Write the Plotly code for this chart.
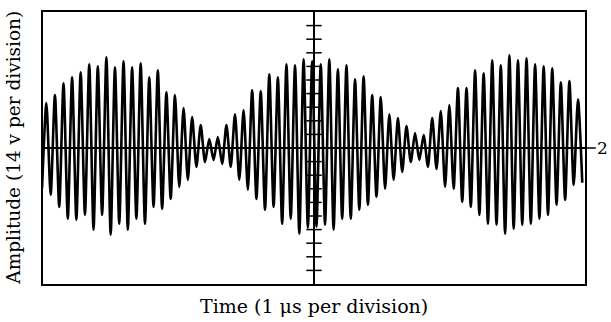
import plotly.graph_objects as go

# Sampling of the trace: one sample per half-cycle extreme (time in microseconds)
t_start = -0.017
half_period = 0.0791

# Positive peaks (volts), read left to right
peaks = [23.1, 27.2, 33.3, 36.4, 39.0, 43.1, 42.0, 46.7, 41.5, 44.6,
         41.5, 43.6, 36.4, 40.0, 28.7, 27.2, 20.5, 15.9, 11.8, 4.6,
         5.6, 11.8, 17.4, 19.5, 29.7, 29.2, 37.9, 36.4, 43.1, 42.6,
         45.6, 44.6, 43.1, 45.6, 40.5, 42.6, 35.4, 36.9, 27.2, 26.2,
         17.4, 15.4, 11.3, 7.7, 6.7, 15.4, 19.0, 22.1, 30.8, 30.8,
         40.0, 38.5, 45.1, 42.6, 47.7, 45.1, 46.2, 43.1, 42.0, 41.0,
         33.8, 34.4, 25.1]

# Negative troughs (volts, magnitude), read left to right
troughs = [20.5,
           24.1, 30.3, 36.4, 36.9, 34.4, 42.0, 34.4, 44.6, 39.0, 42.0, 36.4, 39.0, 30.3, 31.3, 26.2,
           20.0, 16.4, 9.7, 7.2, 6.2, 8.2, 9.7, 16.4, 21.5, 26.2, 31.8, 30.3, 39.0, 36.4, 44.1, 41.0,
           40.5, 39.5, 42.0, 36.4, 36.4, 31.8, 29.2, 25.1, 21.0, 16.4, 12.3, 7.2, 6.2, 9.7, 10.8, 20.0,
           21.0, 27.7, 30.3, 34.4, 39.0, 39.5, 44.1, 41.5, 39.5, 39.0, 36.4, 34.4, 29.2, 26.7, 19.0, 17.9]

# Graticule tick marks on the centre line (volts)
center_ticks = [-63, -56, -49, -42, -35, -28, -21, -14, -7, 7, 14, 21, 28, 35, 42, 49, 56, 63]

x_range = [0, 10]
y_range = [-70, 70]

ys = []
for i in range(len(troughs)):
    ys.append(-troughs[i])
    if i < len(peaks):
        ys.append(peaks[i])
ts = [t_start + k * half_period for k in range(len(ys))]

font_family = "DejaVu Serif"

fig = go.Figure()
fig.add_trace(go.Scatter(
    x=ts, y=ys, mode="lines",
    line=dict(color="black", width=2.6, shape="spline", smoothing=0.7),
    hoverinfo="skip", showlegend=False,
))
fig.add_trace(go.Scatter(
    x=[5] * len(center_ticks), y=center_ticks, mode="markers",
    marker=dict(symbol="line-ew", size=11, line=dict(color="black", width=1.5)),
    hoverinfo="skip", showlegend=False,
))

# centre vertical line
fig.add_shape(type="line", xref="x", yref="paper", x0=5, x1=5, y0=0, y1=1,
              line=dict(color="black", width=2))
# channel marker on the right
fig.add_shape(type="line", xref="paper", yref="y", x0=1, x1=1.02, y0=0, y1=0,
              line=dict(color="black", width=1.5))
fig.add_annotation(xref="paper", yref="y", x=1.045, y=0, text="2", showarrow=False,
                   xanchor="right", yanchor="middle", borderpad=0,
                   font=dict(family=font_family, size=17, color="black"))

fig.add_annotation(xref="paper", yref="paper", x=0.5, y=-0.08, text="Time (1 μs per division)",
                   showarrow=False, xanchor="center", yanchor="middle",
                   font=dict(family=font_family, size=19, color="black"))
fig.add_annotation(xref="paper", yref="paper", x=-0.056, y=0.5, text="Amplitude (14 v per division)",
                   showarrow=False, xanchor="center", yanchor="middle", textangle=-90,
                   font=dict(family=font_family, size=18.5, color="black"))

fig.update_layout(
    width=611, height=322,
    margin=dict(l=43, r=26, t=10, b=38),
    paper_bgcolor="white", plot_bgcolor="white",
    xaxis=dict(range=x_range, showgrid=False, zeroline=False, showticklabels=False, ticks="",
               showline=True, mirror=True, linecolor="black", linewidth=1.5, fixedrange=True),
    yaxis=dict(range=y_range, showgrid=False, zeroline=True, zerolinecolor="black", zerolinewidth=2,
               showticklabels=False, ticks="",
               showline=True, mirror=True, linecolor="black", linewidth=1.5, fixedrange=True),
)

fig.write_html("out.html", config={"displayModeBar": False})
